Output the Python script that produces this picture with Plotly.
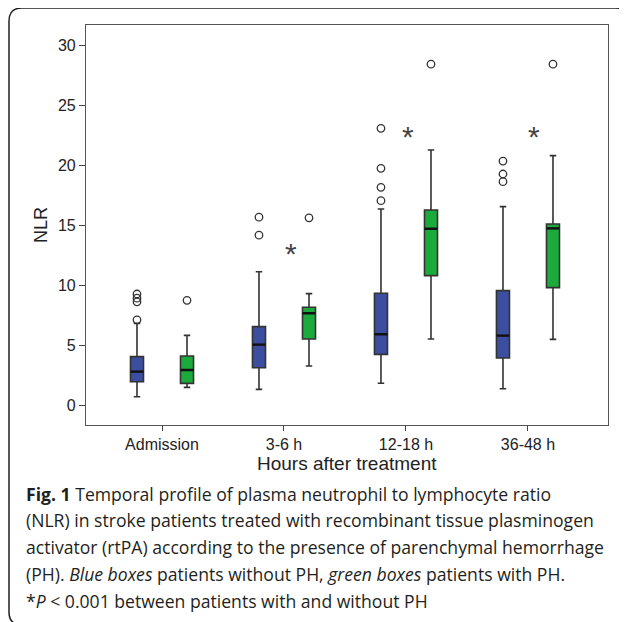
import plotly.graph_objects as go

categories = ["Admission", "3-6 h", "12-18 h", "36-48 h"]

# Patients without PH (blue)
noph_q1 = [1.94, 3.11, 4.22, 3.92]
noph_median = [2.78, 5.03, 5.89, 5.78]
noph_q3 = [4.03, 6.53, 9.31, 9.53]
noph_low = [0.69, 1.30, 1.81, 1.36]
noph_high = [6.80, 11.10, 16.33, 16.53]
noph_outliers = [[7.10, 8.60, 8.90, 9.25], [14.15, 15.65], [17.03, 18.14, 19.72, 23.06], [18.61, 19.25, 20.33]]

# Patients with PH (green)
ph_q1 = [1.80, 5.50, 10.78, 9.78]
ph_median = [2.92, 7.64, 14.69, 14.72]
ph_q3 = [4.08, 8.14, 16.25, 15.08]
ph_low = [1.47, 3.25, 5.50, 5.47]
ph_high = [5.80, 9.28, 21.25, 20.78]
ph_outliers = [[8.72], [15.60], [28.40], [28.40]]

# significance markers: (x position, y value)
sig_x = [1.06, 2.02, 3.05]
sig_y = [13.0, 22.75, 22.7]

y_ticks = [0, 5, 10, 15, 20, 25, 30]

caption_lines = [
    "<b>Fig. 1</b> Temporal profile of plasma neutrophil to lymphocyte ratio",
    "(NLR) in stroke patients treated with recombinant tissue plasminogen",
    "activator (rtPA) according to the presence of parenchymal hemorrhage",
    "(PH). <i>Blue boxes</i> patients without PH, <i>green boxes</i> patients with PH.",
    "*<i>P</i> &lt; 0.001 between patients with and without PH",
]

OFF = 8  # page body margin in the browser
W, H = 627 - OFF, 622 - OFF
ML, MT = 86 - OFF, 25 - OFF
PLOT_R, PLOT_B = 608 - OFF, 425 - OFF
MR, MB = W - PLOT_R, H - PLOT_B
PW, PH = W - ML - MR, H - MT - MB


def px_x(px):
    return (px - OFF - ML) / PW


def px_y(py):
    return (PLOT_B - (py - OFF)) / PH


fig = go.Figure()
groups = [
    ("Without PH", noph_q1, noph_median, noph_q3, noph_low, noph_high, noph_outliers, "#3b4ea0", "g1"),
    ("With PH", ph_q1, ph_median, ph_q3, ph_low, ph_high, ph_outliers, "#1caa3d", "g2"),
]
for name, q1, med, q3, lo, hi, outs, col, og in groups:
    fig.add_trace(go.Box(
        name=name,
        x=categories,
        q1=q1, median=med, q3=q3, lowerfence=lo, upperfence=hi,
        y=outs,
        boxpoints="outliers",
        fillcolor=col,
        line=dict(color="#333333", width=1.6),
        marker=dict(symbol="circle-open", size=7.5, color="#333333", line=dict(width=1.3)),
        whiskerwidth=0.5,
        offsetgroup=og, alignmentgroup="a",
        showlegend=False,
    ))
# thicker median lines drawn over the boxes
for name, q1, med, q3, lo, hi, outs, col, og in groups:
    fig.add_trace(go.Box(
        name=name + " median",
        x=categories,
        q1=med, median=med, q3=med, lowerfence=med, upperfence=med,
        boxpoints=False,
        fillcolor="rgba(0,0,0,0)",
        line=dict(color="#111111", width=2.4),
        whiskerwidth=0,
        offsetgroup=og, alignmentgroup="a",
        hoverinfo="skip",
        showlegend=False,
    ))

for sx, sy in zip(sig_x, sig_y):
    fig.add_annotation(x=sx, y=sy, xref="x", yref="y", text="*", showarrow=False,
                       font=dict(family="Liberation Sans", size=30, color="#444444"),
                       yanchor="middle", yshift=-4)

fig.update_layout(
    width=W, height=H,
    margin=dict(l=ML, r=MR, t=MT, b=MB),
    paper_bgcolor="white", plot_bgcolor="white",
    boxmode="group", boxgap=0.18, boxgroupgap=0.74,
    font=dict(family="Liberation Sans", color="#222222"),
    xaxis=dict(
        type="category", range=[-0.623, 3.656],
        showline=True, mirror=True, linecolor="#555555", linewidth=1.2,
        ticks="outside", ticklen=5, tickcolor="#444444",
        tickfont=dict(size=16, color="#222222"), showgrid=False, zeroline=False,
    ),
    yaxis=dict(
        range=[-1.667, 31.667], tickvals=y_ticks,
        showline=True, mirror=True, linecolor="#555555", linewidth=1.2,
        ticks="outside", ticklen=6, tickcolor="#444444",
        tickfont=dict(size=16, color="#222222"), showgrid=False, zeroline=False,
    ),
)

# axis titles
fig.add_annotation(x=px_x(347), y=px_y(463), xref="paper", yref="paper", text="Hours after treatment",
                   showarrow=False, font=dict(family="Liberation Sans", size=19, color="#222222"),
                   xanchor="center", yanchor="middle")
fig.add_annotation(x=px_x(41), y=px_y(225), xref="paper", yref="paper", text="NLR", textangle=-90,
                   showarrow=False, font=dict(family="Liberation Sans", size=18, color="#222222"),
                   xanchor="center", yanchor="middle")

# caption
line_y = [494, 520, 547, 574, 601]
for txt, ly in zip(caption_lines, line_y):
    fig.add_annotation(x=px_x(24), y=px_y(ly), xref="paper", yref="paper", text=txt,
                       showarrow=False, font=dict(family="Open Sans", size=17.6, color="#231f20"),
                       xanchor="left", yanchor="middle", align="left")

# rounded frame (right and bottom edges run off the page)
x0, x1, y0, y1 = px_x(9), px_x(629), px_y(625), px_y(8)
rx, ry = 13 / PW, 13 / PH
path = (f"M {x0+rx},{y1} L {x1-rx},{y1} Q {x1},{y1} {x1},{y1-ry} L {x1},{y0+ry} "
        f"Q {x1},{y0} {x1-rx},{y0} L {x0+rx},{y0} Q {x0},{y0} {x0},{y0+ry} "
        f"L {x0},{y1-ry} Q {x0},{y1} {x0+rx},{y1} Z")
fig.add_shape(type="path", path=path, xref="paper", yref="paper",
              line=dict(color="#231f20", width=1.5))

fig.write_html("out.html")
